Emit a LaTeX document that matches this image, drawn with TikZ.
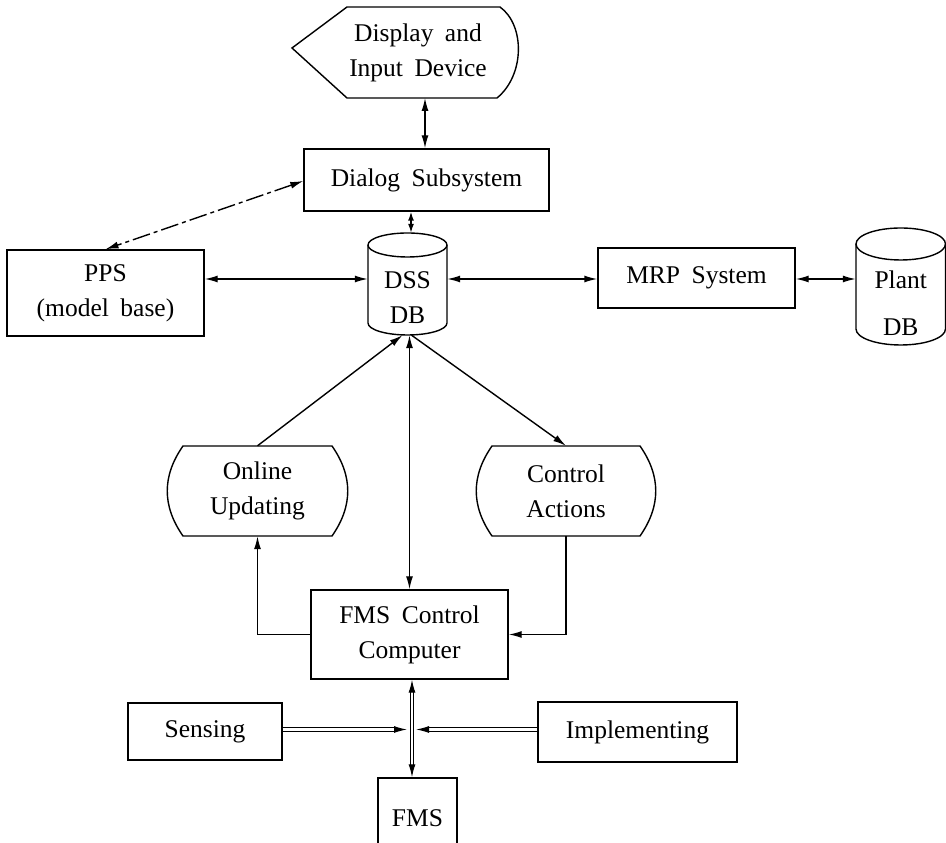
\documentclass[tikz,border=0pt]{standalone}
\usepackage{fontspec}
\setmainfont[WordSpace=1.8]{Liberation Serif}
\usetikzlibrary{arrows.meta}
\begin{document}
\begin{tikzpicture}[x=1pt,y=1pt,
  every node/.style={font=\fontsize{25.5}{35}\selectfont, align=center, inner sep=0pt},
  arr/.tip={Latex[length=13pt,width=7pt]},
  sarr/.tip={Latex[length=9pt,width=6pt]},
  ln/.style={line width=1.4pt},
  box/.style={draw, line width=1.4pt},
  dbl/.style={ln, {arr}-{arr}},
  onearr/.style={ln, -{arr}},
  dline/.style={line width=1.2pt, double, double distance=2.4pt},
  dashline/.style={dash pattern=on 18pt off 4pt on 4pt off 4pt}]
\useasboundingbox (0,0) rectangle (946,843);
\clip (0,0) rectangle (946,843);

% display and input device
\node (disp) at (418,790) {Display and\\Input Device};
\draw[ln] (292,795) -- (347,836) -- (500,836)
  .. controls (525,818) and (525,768) .. (497,745) -- (347,745) -- cycle;
\coordinate (dispb) at (425,745);

% dialog subsystem
\node[box, minimum width=245pt, minimum height=62pt] (dialog) at (426.5,663) {Dialog Subsystem};
\draw[dbl] (dispb) -- (dispb |- dialog.north);

% model base
\node[box, minimum width=197pt, minimum height=86pt] (pps) at (105.5,550) {PPS\\(model base)};
\draw[dbl, dashline] ([yshift=-1pt]dialog.west) -- (pps.north);

% DSS database
\node[minimum width=79pt, minimum height=102pt] (dss) at (407.5,559) {};
\draw[ln] (368,598) -- (368,520) arc[start angle=180, end angle=360, x radius=39.5pt, y radius=12pt] -- (447,598);
\draw[ln] (407.5,598) ellipse[x radius=39.5pt, y radius=12pt];
\node (dsst) at (407.5,545) {DSS\\DB};
\coordinate (dsstop) at ([xshift=3.5pt]dss.north);
\draw[ln, {sarr}-{sarr}] (dialog.south -| dsstop) -- (dsstop);

% MRP system and plant database
\node[box, minimum width=197pt, minimum height=60pt] (mrp) at (696.5,565) {MRP System};
\node[minimum width=89.5pt, minimum height=117pt] (plant) at (900.75,556.5) {};
\draw[ln] (856,599) -- (856,514) arc[start angle=180, end angle=360, x radius=44.75pt, y radius=16pt] -- (945.5,599);
\draw[ln] (900.75,599) ellipse[x radius=44.75pt, y radius=16pt];
\node (plantt) at (900.75,539.5) {Plant\\[12pt]DB};

\draw[dbl] ([yshift=14pt]pps.east) -- ([yshift=5pt]dss.west);
\draw[dbl] ([yshift=5pt]dss.east) -- ([yshift=-1pt]mrp.west);
\draw[dbl] ([yshift=-1pt]mrp.east) -- ([yshift=7.5pt]plant.west);

% online updating and control actions
\node[minimum width=149pt, minimum height=90pt] (onl) at (257.5,352) {Online\\Updating};
\draw[ln] (183,397) -- (332,397) .. controls (353,367) and (353,337) .. (332,307)
  -- (183,307) .. controls (162,337) and (162,367) .. cycle;
\node[minimum width=148pt, minimum height=90pt] (ctl) at (566,352) {Control\\Actions};
\draw[ln] (492,397) -- (640,397) .. controls (661,367) and (661,337) .. (640,307)
  -- (492,307) .. controls (471,337) and (471,367) .. cycle;

% FMS control computer
\node[box, minimum width=197pt, minimum height=89pt] (fmsc) at (409.5,208.5) {FMS Control\\Computer};

\draw[onearr] (onl.north) -- ([xshift=-5pt]dss.south);
\draw[dbl] (fmsc.north |- dss.south) -- (fmsc.north);
\draw[onearr] ([xshift=4pt]dss.south) -- (ctl.north);
\draw[onearr] (fmsc.west) -| (onl.south);
\draw[onearr] (ctl.south) |- (fmsc.east);

% shop floor
\node[box, minimum width=154pt, minimum height=57pt] (sens) at (205,111.5) {Sensing};
\node[box, minimum width=199pt, minimum height=60pt] (impl) at (637.5,111) {Implementing};
\node[box, minimum width=79pt, minimum height=80pt] (fms) at (417.5,25) {FMS};
\coordinate (hub) at (412,113.5);
\draw[dline, {arr}-{arr}] (fmsc.south -| hub) -- (fms.north -| hub);
\draw[dline, -{arr}] (sens.east |- hub) -- ([xshift=-5pt]hub);
\draw[dline, -{arr}] (impl.west |- hub) -- ([xshift=4pt]hub);
\end{tikzpicture}
\end{document}
